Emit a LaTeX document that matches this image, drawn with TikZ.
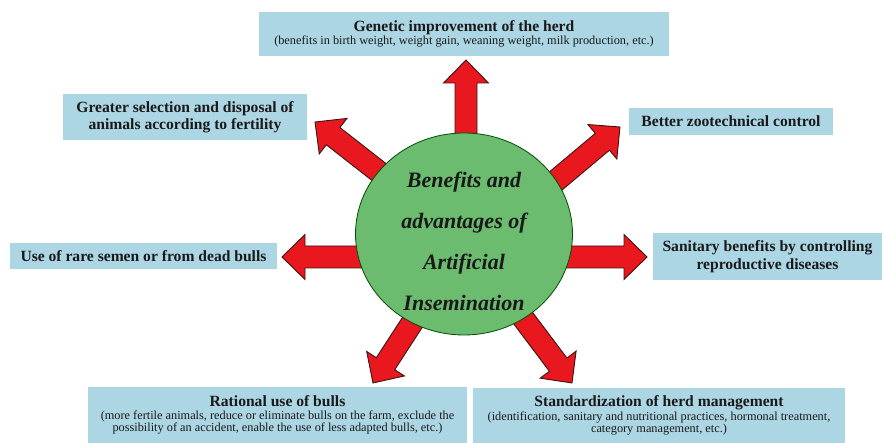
\documentclass[tikz,border=0pt]{standalone}
\usepackage{fontspec}
\setmainfont{Liberation Serif}
\usetikzlibrary{shapes.geometric}
\definecolor{boxblue}{RGB}{172,214,228}
\definecolor{circgreen}{RGB}{108,188,112}
\definecolor{arrred}{RGB}{232,24,30}
\definecolor{arredge}{RGB}{60,20,20}
\definecolor{txt}{RGB}{25,25,25}
\newcommand{\ttlfnt}{\fontsize{15.6}{17.5}\selectfont\bfseries}
\newcommand{\subfnt}{\fontsize{12.3}{13.5}\selectfont}
\newcommand{\fatarrow}[3]{%
  \draw[fatarrowstyle, shift={#1}, rotate=#2]
    (0,0) -- (-23,22.5) -- (-23,11) -- (-#3,11) -- (-#3,-11) -- (-23,-11) -- (-23,-22.5) -- cycle;}
\tikzset{
  infobox/.style={fill=boxblue, draw=none, inner sep=0pt, align=center, text=txt},
  fatarrowstyle/.style={fill=arrred, draw=arredge, line width=0.9pt, line join=miter},
  hub/.style={ellipse, fill=circgreen, draw=black!70!green, line width=0.8pt,
    minimum width=217pt, minimum height=202pt, inner sep=0pt},
  hubtext/.style={align=center, text=txt, inner sep=0pt,
    font=\fontsize{22}{41}\selectfont\bfseries\itshape}
}
\begin{document}
\begin{tikzpicture}[x=1pt,y=1pt]
\useasboundingbox (0,0) rectangle (884,443);
% arrows (drawn first, below the circle)
\fatarrow{(466,383)}{90}{174}
\fatarrow{(282,186)}{180}{180}
\fatarrow{(647,186)}{0}{180}
\fatarrow{(315,321)}{142}{140}
\fatarrow{(620,316)}{40}{140}
\fatarrow{(373,60)}{237}{140}
\fatarrow{(572,60)}{-53}{140}
% central circle
\node[hub] (hub) at (464,209) {};
\node[hubtext] (hubtxt) at (464,202) {Benefits and\\advantages of\\Artificial\\Insemination};
% boxes
\node[infobox, minimum width=410pt, minimum height=44pt] (genetic) at (464,409)
  {{\ttlfnt Genetic improvement of the herd}\\[0.5pt]
   {\subfnt (benefits in birth weight, weight gain, weaning weight, milk production, etc.)}};
\node[infobox, minimum width=244pt, minimum height=46pt, font=\ttlfnt] (greater) at (185,326)
  {Greater selection and disposal of\\animals according to fertility};
\node[infobox, minimum width=204pt, minimum height=27pt, font=\ttlfnt] (better) at (731,321.5)
  {Better zootechnical control};
\node[infobox, minimum width=267pt, minimum height=26pt, font=\ttlfnt] (rare) at (143.5,187)
  {Use of rare semen or from dead bulls};
\node[infobox, minimum width=229pt, minimum height=47pt, font=\ttlfnt] (sanitary) at (767.5,186.5)
  {Sanitary benefits by controlling\\reproductive diseases};
\node[infobox, minimum width=379pt, minimum height=56pt] (rational) at (277.5,28)
  {{\ttlfnt Rational use of bulls}\\[0.5pt]
   {\subfnt (more fertile animals, reduce or eliminate bulls on the farm, exclude the}\\
   {\subfnt possibility of an accident, enable the use of less adapted bulls, etc.)}};
\node[infobox, minimum width=372pt, minimum height=55pt] (standard) at (659,27.5)
  {{\ttlfnt Standardization of herd management}\\[0.5pt]
   {\subfnt (identification, sanitary and nutritional practices, hormonal treatment,}\\
   {\subfnt category management, etc.)}};
\end{tikzpicture}
\end{document}
